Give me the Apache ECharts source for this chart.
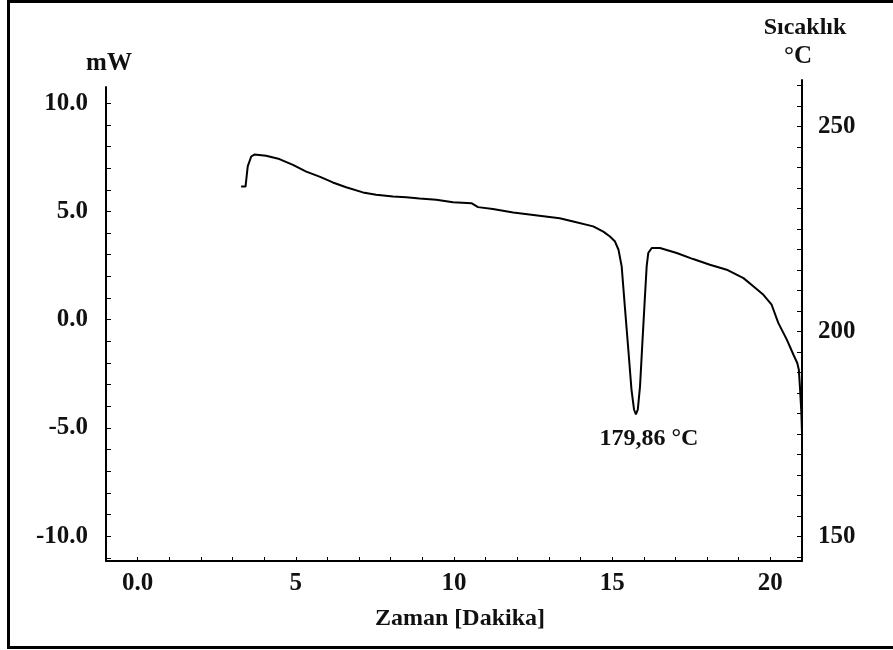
<!DOCTYPE html>
<html>
<head>
<meta charset="utf-8">
<script src="https://cdn.jsdelivr.net/npm/echarts@6/dist/echarts.min.js"></script>
<style>
html,body{margin:0;padding:0;background:#fff;}
#c{width:893px;height:650px;}
</style>
</head>
<body>
<div id="c"></div>
<script>
// Time (minutes)
const timeMin = [3.27,3.41,3.48,3.59,3.69,4.06,4.48,4.91,5.33,5.75,6.17,6.59,7.12,7.54,8.07,8.49,8.91,9.44,9.97,10.55,10.76,11.23,11.87,
  13.34,13.77,14.40,14.72,14.93,15.09,15.20,15.30,15.40,15.51,15.61,15.69,15.75,15.81,15.88,15.96,16.03,16.09,16.14,16.25,16.51,
  17.04,17.56,18.09,18.62,19.15,19.46,19.78,20.04,20.25,20.52,20.73,20.85,20.90,20.94,20.98,21.00];
// Heat flow (mW)
const heatFlow = [6.15,6.15,7.08,7.54,7.63,7.57,7.42,7.15,6.84,6.61,6.34,6.12,5.88,5.77,5.69,5.66,5.60,5.54,5.43,5.38,5.20,5.11,4.95,
  4.69,4.54,4.31,4.07,3.84,3.61,3.23,2.46,0.61,-1.38,-3.23,-4.15,-4.38,-4.15,-3.08,-0.92,0.92,2.46,3.08,3.31,3.31,
  3.08,2.80,2.54,2.31,1.92,1.54,1.15,0.69,-0.15,-0.92,-1.62,-2.00,-2.31,-3.23,-4.31,-5.23];

const xTickLabels = [0, 5, 10, 15, 20];
const xMinorTicks = [0,1,2,3,4,5,6,7,8,9,10,11,12,13,14,15,16,17,18,19,20];
const mwTickLabels = [-10, -5, 0, 5, 10];
const mwMinorTicks = [-11,-10,-9,-8,-7,-6,-5,-4,-3,-2,-1,0,1,2,3,4,5,6,7,8,9,10];
const tempTickLabels = [150, 200, 250];
const tempMinorTicks = [145,150,155,160,165,170,175,180,185,190,195,200,205,210,215,220,225,230,235,240,245,250,255,260];
const peakLabel = '179,86 °C';

// locate the melting dip (lowest point before the end drop)
let dipIdx = 0;
for (let i = 0; i < timeMin.length; i++) {
  if (timeMin[i] < 20 && heatFlow[i] < heatFlow[dipIdx]) dipIdx = i;
}

const FONT = 'Liberation Serif';
const TXT = '#111';
const chart = echarts.init(document.getElementById('c'), null, {renderer: 'canvas'});

const lblStyle = {fontFamily: FONT, fontWeight: 'bold', fontSize: 25, color: TXT};

chart.setOption({
  backgroundColor: '#fff',
  animation: false,
  grid: [
    {left: 106, right: 91, top: 87, bottom: 89, containLabel: false},
    {left: 106, right: 91, top: 80, bottom: 89, containLabel: false}
  ],
  xAxis: [
    {
      type: 'value', gridIndex: 0, min: -1, max: 21,
      axisLine: {show: true, onZero: false, lineStyle: {color: '#000', width: 2}},
      axisTick: {show: true, inside: true, length: 4, customValues: xMinorTicks, lineStyle: {color: '#000', width: 1}},
      axisLabel: Object.assign({
        customValues: xTickLabels, margin: 10,
        formatter: v => (v === 0 ? '0.0' : String(v))
      }, lblStyle),
      splitLine: {show: false}
    },
    {type: 'value', gridIndex: 1, min: -1, max: 21, show: false}
  ],
  yAxis: [
    {
      type: 'value', gridIndex: 0, min: -11.15, max: 10.75, position: 'left',
      axisLine: {show: true, onZero: false, lineStyle: {color: '#000', width: 2}},
      axisTick: {show: true, inside: true, length: 5, customValues: mwMinorTicks, lineStyle: {color: '#000', width: 1}},
      axisLabel: Object.assign({
        customValues: mwTickLabels, margin: 18,
        formatter: v => v.toFixed(1)
      }, lblStyle),
      splitLine: {show: false}
    },
    {
      type: 'value', gridIndex: 1, min: 144.07, max: 261.4, position: 'right',
      axisLine: {show: true, onZero: false, lineStyle: {color: '#000', width: 2}},
      axisTick: {show: true, inside: true, length: 5, customValues: tempMinorTicks, lineStyle: {color: '#000', width: 1}},
      axisLabel: Object.assign({
        customValues: tempTickLabels, margin: 16,
        formatter: v => String(v)
      }, lblStyle),
      splitLine: {show: false}
    }
  ],
  series: [{
    type: 'line',
    xAxisIndex: 0, yAxisIndex: 0,
    data: timeMin.map((t, i) => [t, heatFlow[i]]),
    symbol: 'none',
    smooth: false,
    clip: false,
    lineStyle: {color: '#000', width: 2},
    markPoint: {
      symbol: 'circle', symbolSize: 0,
      data: [{coord: [timeMin[dipIdx], heatFlow[dipIdx]], value: peakLabel}],
      label: {
        show: true, formatter: peakLabel, position: 'inside', offset: [13, 24],
        fontFamily: FONT, fontWeight: 'bold', fontSize: 24, color: TXT
      }
    }
  }],
  graphic: [
    {type: 'rect', silent: true, z: 100,
      shape: {x: 8.5, y: 1.5, width: 900, height: 646},
      style: {fill: 'none', stroke: '#000', lineWidth: 3}},
    {type: 'text', x: 109, y: 64, style: {text: 'mW', align: 'center', verticalAlign: 'middle', font: 'bold 25px "Liberation Serif"', fill: TXT}},
    {type: 'text', x: 805, y: 28, style: {text: 'Sıcaklık', align: 'center', verticalAlign: 'middle', font: 'bold 24px "Liberation Serif"', fill: TXT}},
    {type: 'text', x: 798, y: 57, style: {text: '°C', align: 'center', verticalAlign: 'middle', font: 'bold 25px "Liberation Serif"', fill: TXT}},
    {type: 'text', x: 460, y: 619, style: {text: 'Zaman [Dakika]', align: 'center', verticalAlign: 'middle', font: 'bold 24px "Liberation Serif"', fill: TXT}}
  ]
});
</script>
</body>
</html>
